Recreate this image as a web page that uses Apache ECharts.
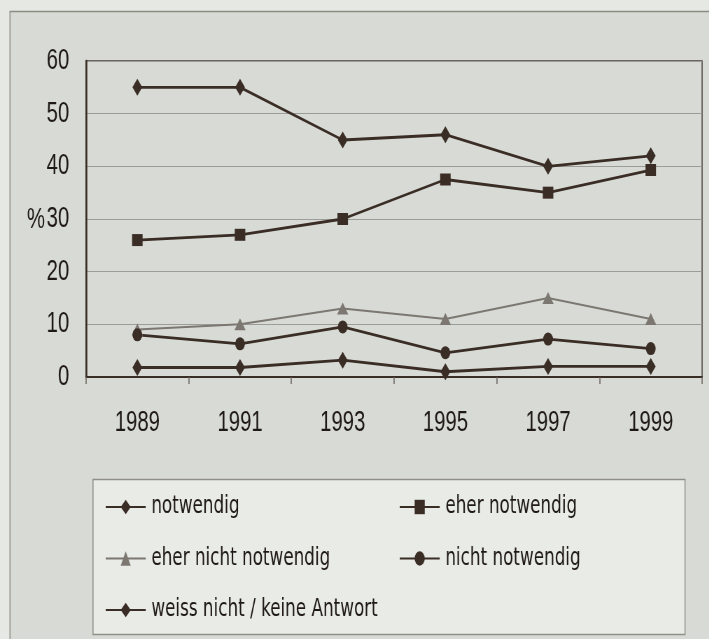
<!DOCTYPE html>
<html>
<head>
<meta charset="utf-8">
<script src="https://cdn.jsdelivr.net/npm/echarts@6/dist/echarts.min.js"></script>
<style>
  html, body { margin: 0; padding: 0; background: #e4e6e1; overflow: hidden; }
  /* the scan uses a condensed face: lay out wide, then squeeze horizontally */
  #chart { width: 1013px; height: 639px; transform: scaleX(0.7); transform-origin: 0 0; }
</style>
</head>
<body>
<div id="chart"></div>
<script>
// Jahre und Werte (in %)
const years = ['1989', '1991', '1993', '1995', '1997', '1999'];
const notwendig = [55, 55, 45, 46, 40, 42];
const eherNotwendig = [26, 27, 30, 37.5, 35, 39.3];
const eherNichtNotwendig = [9, 10, 13, 11, 15, 11];
const nichtNotwendig = [8, 6.3, 9.5, 4.6, 7.2, 5.4];
const weissNicht = [1.8, 1.8, 3.2, 1, 2, 2];
const yTicks = [0, 10, 20, 30, 40, 50, 60];

const font = "'Liberation Sans', Arial, sans-serif";
const legendFont = "'DejaVu Sans', sans-serif";
const dark = '#3a2d26';
const grey = '#7c7771';
const ink = '#1e1916';
const sx = 1 / 0.7; // horizontal stretch before the css squeeze

const chart = echarts.init(document.getElementById('chart'));

function line(name, data, symbol, size, color, width) {
  return {
    name: name,
    type: 'line',
    data: data,
    symbol: symbol,
    symbolSize: size,
    lineStyle: { color: color, width: width },
    itemStyle: { color: color, borderWidth: 0 },
    emphasis: { disabled: true },
    z: 3
  };
}

const legendBase = {
  orient: 'vertical', top: 495, itemGap: 27.5, padding: 0,
  itemWidth: 40 * sx, itemHeight: 18,
  textStyle: { fontSize: 24, color: ink, fontFamily: legendFont, padding: [0, 0, 0, 3] }
};

chart.setOption({
  backgroundColor: '#d8dbd5',
  animation: false,
  textStyle: { fontFamily: font },
  graphic: [
    { type: 'rect', shape: { x: 0, y: 0, width: 10 * sx, height: 639 },
      style: { fill: '#e6e8e3' }, z: -1 },
    { type: 'rect', shape: { x: 0, y: 0, width: 709 * sx, height: 11 },
      style: { fill: '#e6e8e3' }, z: -1 },
    // äusserer Rahmen
    { type: 'rect', shape: { x: 10 * sx, y: 11.5, width: 720 * sx, height: 640 },
      style: { fill: 'none', stroke: '#8d8c84', lineWidth: 1.5 }, z: -1 },
    // Legendenkasten
    { type: 'rect', shape: { x: 93 * sx, y: 479.5, width: 592 * sx, height: 155 },
      style: { fill: '#e9ebe6', stroke: '#8f8e88', lineWidth: 1.5 }, z: 0 },
    { type: 'text', left: 27 * sx, top: 205,
      style: { text: '%', fontSize: 29, fontFamily: font, fill: ink } }
  ],
  grid: {
    left: 86 * sx, right: 7 * sx, top: 61, bottom: 262,
    show: true, borderColor: '#4a3f38', borderWidth: 1.5,
    backgroundColor: 'transparent'
  },
  xAxis: {
    type: 'category',
    data: years,
    boundaryGap: true,
    axisLine: { lineStyle: { color: dark, width: 2.2 } },
    axisTick: { show: true, length: 7, lineStyle: { color: '#6a625c', width: 1.5 } },
    axisLabel: { color: ink, fontSize: 29, margin: 31 }
  },
  yAxis: {
    type: 'value',
    min: yTicks[0],
    max: yTicks[yTicks.length - 1],
    interval: 10,
    axisLine: { show: true, lineStyle: { color: dark, width: 2.6 } },
    axisTick: { show: false },
    axisLabel: { color: ink, fontSize: 29, margin: 24 },
    splitLine: { lineStyle: { color: '#9c9d98', width: 1 } }
  },
  legend: [
    Object.assign({}, legendBase, {
      left: 105 * sx,
      data: ['notwendig', 'eher nicht notwendig', 'weiss nicht / keine Antwort']
    }),
    Object.assign({}, legendBase, {
      left: 399 * sx,
      data: ['eher notwendig', 'nicht notwendig']
    })
  ],
  series: [
    line('notwendig', notwendig, 'diamond', [14, 17], dark, 2.8),
    line('eher notwendig', eherNotwendig, 'rect', [15, 12], dark, 2.8),
    line('eher nicht notwendig', eherNichtNotwendig, 'triangle', [16, 12], grey, 2),
    line('nicht notwendig', nichtNotwendig, 'circle', [14, 13], dark, 2.8),
    line('weiss nicht / keine Antwort', weissNicht, 'diamond', [14, 17], dark, 2.8)
  ]
});
</script>
</body>
</html>
